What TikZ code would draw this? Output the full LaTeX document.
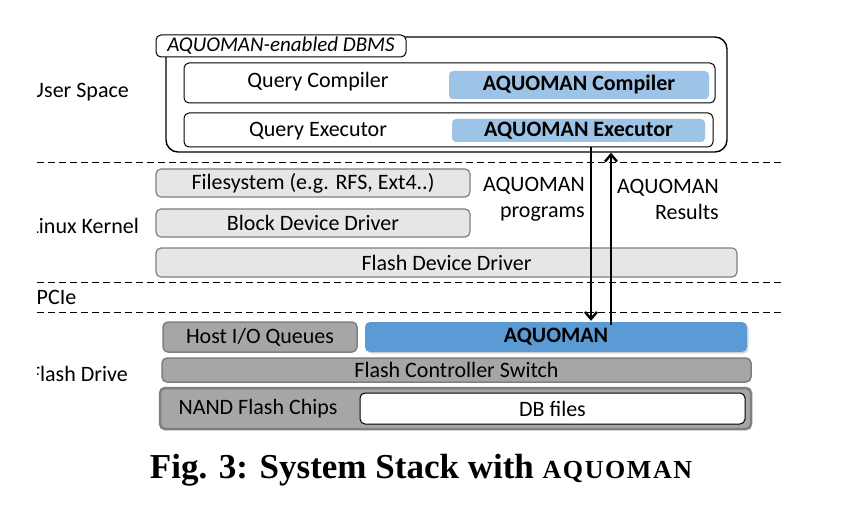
\documentclass[tikz,border=0pt]{standalone}
\usepackage{fontspec}
\setmainfont{Carlito}
\newfontfamily\capfont{Liberation Serif}
\usetikzlibrary{arrows.meta, positioning, calc, shadows}
\definecolor{aqlight}{HTML}{9DC3E6}
\definecolor{aqblue}{HTML}{5B9BD5}
\definecolor{kgray}{HTML}{E6E6E6}
\definecolor{dgray}{HTML}{A6A6A6}
\definecolor{edgegray}{HTML}{7F7F7F}
\tikzset{
    dims/.style 2 args = {minimum width=#1pt, minimum height=#2pt, inner sep=0pt},
    rowbox/.style = {draw, rounded corners=5pt, line width=1pt, fill=white},
    aqbox/.style = {rounded corners=4pt, fill=aqlight, font=\bfseries\fontsize{22}{26}\selectfont},
    kbox/.style = {draw=edgegray, rounded corners=5pt, line width=1.2pt, fill=kgray},
    dbox/.style = {draw=edgegray, rounded corners=5pt, line width=1.5pt, fill=dgray},
    layerline/.style = {dashed, dash pattern=on 7pt off 4pt, line width=0.8pt},
    arrow/.style = {-{Straight Barb[length=7pt, width=12pt, line width=2.4pt]}, line width=2.8pt},
    side/.style = {inner sep=0pt}
}

\begin{document}
\begin{tikzpicture}[x=1pt, y=-1pt, font=\fontsize{22}{26}\selectfont]
    \useasboundingbox[fill=white] (0,0) rectangle (843,513);

    \node[draw, line width=1.4pt, rounded corners=12pt, fill=white, dims={561}{115}] (dbms) at (446.5,94.5) {};
    \node[rowbox, dims={250}{22}, font=\itshape\fontsize{21}{25}\selectfont] (dbmstab) at (281,46) {AQUOMAN-enabled DBMS};
    \node[rowbox, dims={531}{40}] (qcrow) at (449.5,83) {};
    \node[aqbox, dims={260}{28}] (aqcomp) at (579,85) {AQUOMAN Compiler};
    \node[side] (qctext) at (318,82) {Query Compiler};
    \node[rowbox, dims={529}{34}] (qerow) at (448.5,130) {};
    \node[aqbox, dims={253}{23}] (aqexec) at (578.5,130.5) {AQUOMAN Executor};
    \node[side] (qetext) at (318,131) {Query Executor};

    \node[kbox, dims={314}{28}] (fs) at (313,183) {Filesystem (e.g. RFS, Ext4..)};
    \node[kbox, dims={314}{28}] (bdd) at (313,223) {Block Device Driver};
    \node[kbox, dims={581}{29}] (fdd) at (446.5,262.5) {Flash Device Driver};
    \node[side, align=right, anchor=east] (progs) at (585,199) {AQUOMAN\\programs};
    \node[side, align=right, anchor=east] (results) at (719,199) {AQUOMAN\\Results};

    \node[dbox, dims={194}{30}] (hostq) at (260,337) {Host I/O Queues};
    \node[rounded corners=5pt, fill=aqblue, dims={382}{30}, font=\bfseries\fontsize{22}{26}\selectfont,
          drop shadow={shadow xshift=1.5pt, shadow yshift=-1.5pt, opacity=0.3}] (aquoman) at (556,337) {AQUOMAN};
    \node[dbox, dims={589}{24}] (fcs) at (456.5,370) {Flash Controller Switch};
    \node[dbox, line width=2.5pt, dims={591}{41}] (nand) at (455.5,408.5) {};
    \node[side] (nandtext) at (258,409) {NAND Flash Chips};
    \node[draw, line width=1pt, rounded corners=5pt, fill=white, dims={385}{31}] (dbfiles) at (552.5,408.5) {DB files};

    \coordinate (progx) at (591,0);
    \coordinate (resx) at (611,0);
    \draw[arrow] (qerow.south -| progx) -- ($(aquoman.north -| progx)+(0,-1)$);
    \draw[arrow] ($(aquoman.north -| resx)+(0,3)$) -- (dbms.south -| resx);

    \draw[layerline] (37,162) -- (782,162);
    \draw[layerline] (37,282) -- (782,282);
    \draw[layerline] (37,312) -- (782,312);

    \begin{scope}
        \clip (37,0) rectangle (843,513);
        \node[side, anchor=east] (userspace) at (129,92) {User Space};
        \node[side, anchor=east] (kernel) at (139,226) {Linux Kernel};
        \node[side, anchor=west] (pcie) at (36.5,297) {PCIe};
        \node[side, anchor=east] (flashdrive) at (128,374) {Flash Drive};
    \end{scope}

    \node (caption) at (421,470) {\capfont\bfseries\fontsize{35}{40}\selectfont Fig. 3: System Stack with {\addfontfeature{LetterSpace=6}\fontsize{26}{30}\selectfont AQUOMAN}};
\end{tikzpicture}
\end{document}
